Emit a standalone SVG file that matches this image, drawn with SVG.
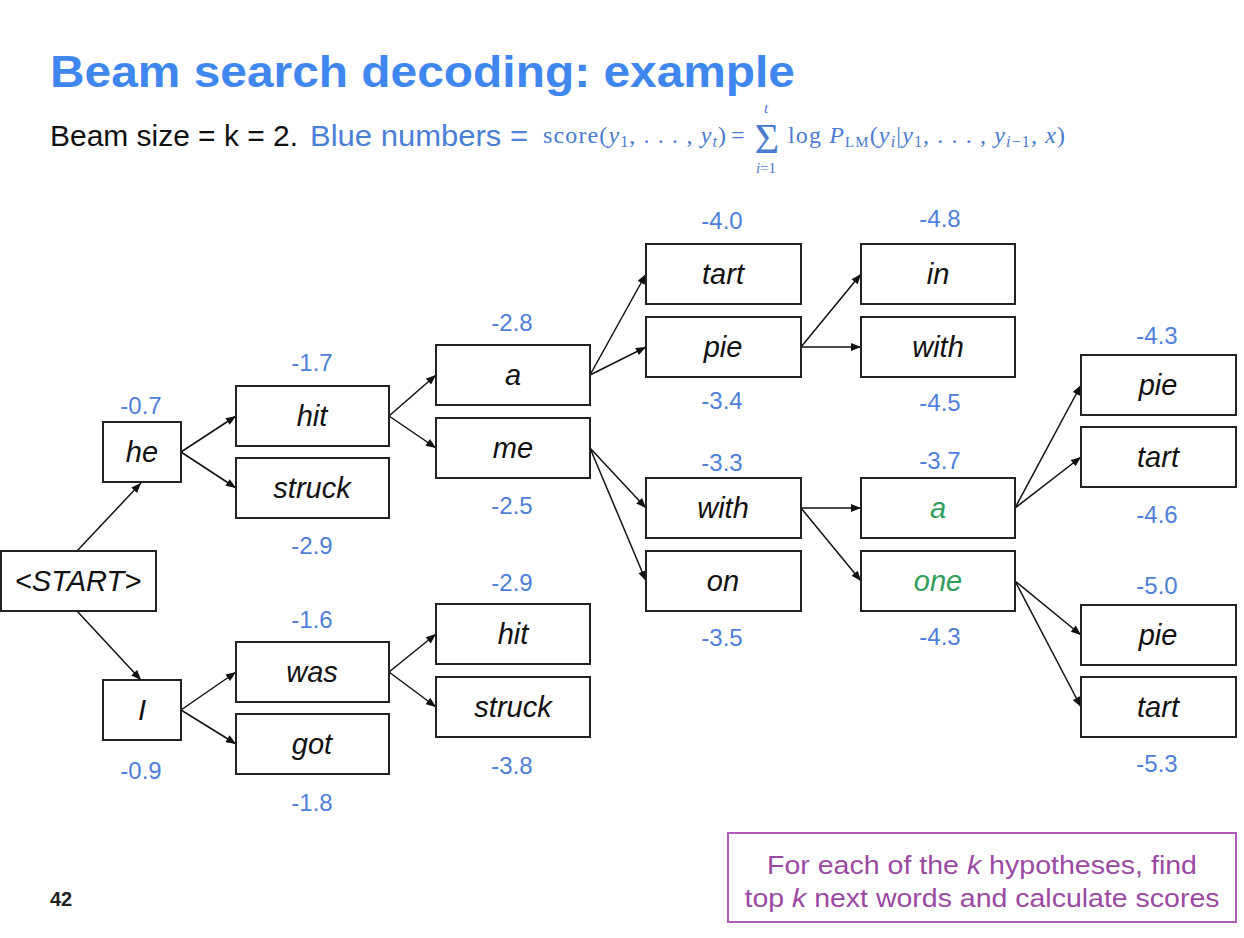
<svg xmlns="http://www.w3.org/2000/svg" width="1244" height="938" viewBox="0 0 1244 938">
<defs>
<marker id="ah" viewBox="0 0 10 8" refX="10" refY="4" markerWidth="11" markerHeight="8" markerUnits="userSpaceOnUse" orient="auto">
<path d="M0,0 L10,4 L0,8 Z" fill="#111"/>
</marker>
<style>
.box{fill:#fff;stroke:#222;stroke-width:2}
.w{font-family:"Liberation Sans",Arial,sans-serif;font-style:italic;font-size:29px;fill:#111;text-anchor:middle}
.g{fill:#2f9e5a}
.s{font-family:"Liberation Sans",Arial,sans-serif;font-size:24px;fill:#4f7fd8;text-anchor:middle}
.e{stroke:#111;stroke-width:1.5;fill:none;marker-end:url(#ah)}
.m{font-family:"Liberation Serif","Times New Roman",serif;fill:#4a7bd0}
</style>
</defs>
<rect width="1244" height="938" fill="#fff"/>
<text x="50" y="87" font-family="Liberation Sans,Arial,sans-serif" font-weight="bold" font-size="45" fill="#3f86ef" textLength="745" lengthAdjust="spacingAndGlyphs">Beam search decoding: example</text>
<text x="50" y="146" font-family="Liberation Sans,Arial,sans-serif" font-size="29" fill="#111" textLength="248" lengthAdjust="spacingAndGlyphs">Beam size = k = 2.</text>
<text x="310" y="146" font-family="Liberation Sans,Arial,sans-serif" font-size="29" fill="#4a7fd6" textLength="218" lengthAdjust="spacingAndGlyphs">Blue numbers =</text>
<g id="formula">
<text class="m" x="543" y="143" font-size="24" textLength="183" lengthAdjust="spacing">score(<tspan font-style="italic">y</tspan><tspan font-size="16" dy="4">1</tspan><tspan dy="-4">, . . . , </tspan><tspan font-style="italic">y</tspan><tspan font-size="16" font-style="italic" dy="4">t</tspan><tspan dy="-4">)</tspan></text>
<text class="m" x="731" y="143" font-size="24">=</text>
<text class="m" x="767" y="153" font-size="42" text-anchor="middle">Σ</text>
<text class="m" x="766" y="113" font-size="15" font-style="italic" text-anchor="middle">t</text>
<text class="m" x="766" y="173" font-size="15" text-anchor="middle"><tspan font-style="italic">i</tspan>=1</text>
<text class="m" x="788" y="143" font-size="24" textLength="277" lengthAdjust="spacing">log <tspan font-style="italic">P</tspan><tspan font-size="15" dy="4">LM</tspan><tspan dy="-4">(</tspan><tspan font-style="italic">y</tspan><tspan font-size="16" font-style="italic" dy="4">i</tspan><tspan dy="-4">|</tspan><tspan font-style="italic">y</tspan><tspan font-size="16" dy="4">1</tspan><tspan dy="-4">, . . . , </tspan><tspan font-style="italic">y</tspan><tspan font-size="16" dy="4"><tspan font-style="italic">i</tspan>−1</tspan><tspan dy="-4">, </tspan><tspan font-style="italic">x</tspan>)</text>
</g>
<g id="connectors">
<line class="e" x1="77" y1="551" x2="141" y2="483"/>
<line class="e" x1="77" y1="611" x2="141" y2="680"/>
<line class="e" x1="181" y1="452" x2="236" y2="416"/>
<line class="e" x1="181" y1="452" x2="236" y2="488"/>
<line class="e" x1="181" y1="710" x2="236" y2="672"/>
<line class="e" x1="181" y1="710" x2="236" y2="744"/>
<line class="e" x1="389" y1="416" x2="436" y2="375"/>
<line class="e" x1="389" y1="416" x2="436" y2="448"/>
<line class="e" x1="389" y1="672" x2="436" y2="634"/>
<line class="e" x1="389" y1="672" x2="436" y2="707"/>
<line class="e" x1="590" y1="375" x2="646" y2="274"/>
<line class="e" x1="590" y1="375" x2="646" y2="347"/>
<line class="e" x1="590" y1="448" x2="646" y2="508"/>
<line class="e" x1="590" y1="448" x2="646" y2="581"/>
<line class="e" x1="801" y1="347" x2="861" y2="274"/>
<line class="e" x1="801" y1="347" x2="861" y2="347"/>
<line class="e" x1="801" y1="508" x2="861" y2="508"/>
<line class="e" x1="801" y1="508" x2="861" y2="581"/>
<line class="e" x1="1015" y1="508" x2="1081" y2="385"/>
<line class="e" x1="1015" y1="508" x2="1081" y2="457"/>
<line class="e" x1="1015" y1="581" x2="1081" y2="635"/>
<line class="e" x1="1015" y1="581" x2="1081" y2="707"/>
</g>
<g id="n-start"><rect class="box" x="1" y="551" width="155" height="60"/><text class="w" x="78" y="591">&lt;START&gt;</text></g>
<g id="n-he"><rect class="box" x="103" y="422" width="78" height="60"/><text class="w" x="142" y="462">he</text><text class="s" x="141" y="414">-0.7</text></g>
<g id="n-I"><rect class="box" x="103" y="680" width="78" height="60"/><text class="w" x="142" y="720">I</text><text class="s" x="141" y="779">-0.9</text></g>
<g id="n-hit"><rect class="box" x="236" y="386" width="153" height="60"/><text class="w" x="312" y="426">hit</text><text class="s" x="312" y="371">-1.7</text></g>
<g id="n-struck"><rect class="box" x="236" y="458" width="153" height="60"/><text class="w" x="312" y="498">struck</text><text class="s" x="312" y="554">-2.9</text></g>
<g id="n-was"><rect class="box" x="236" y="642" width="153" height="60"/><text class="w" x="312" y="682">was</text><text class="s" x="312" y="628">-1.6</text></g>
<g id="n-got"><rect class="box" x="236" y="714" width="153" height="60"/><text class="w" x="312" y="754">got</text><text class="s" x="312" y="811">-1.8</text></g>
<g id="n-a3"><rect class="box" x="436" y="345" width="154" height="60"/><text class="w" x="513" y="385">a</text><text class="s" x="512" y="331">-2.8</text></g>
<g id="n-me"><rect class="box" x="436" y="418" width="154" height="60"/><text class="w" x="513" y="458">me</text><text class="s" x="512" y="514">-2.5</text></g>
<g id="n-hit3"><rect class="box" x="436" y="604" width="154" height="60"/><text class="w" x="513" y="644">hit</text><text class="s" x="512" y="591">-2.9</text></g>
<g id="n-struck3"><rect class="box" x="436" y="677" width="154" height="60"/><text class="w" x="513" y="717">struck</text><text class="s" x="512" y="774">-3.8</text></g>
<g id="n-tart4"><rect class="box" x="646" y="244" width="155" height="60"/><text class="w" x="723" y="284">tart</text><text class="s" x="722" y="229">-4.0</text></g>
<g id="n-pie4"><rect class="box" x="646" y="317" width="155" height="60"/><text class="w" x="723" y="357">pie</text><text class="s" x="722" y="409">-3.4</text></g>
<g id="n-with4"><rect class="box" x="646" y="478" width="155" height="60"/><text class="w" x="723" y="518">with</text><text class="s" x="722" y="471">-3.3</text></g>
<g id="n-on4"><rect class="box" x="646" y="551" width="155" height="60"/><text class="w" x="723" y="591">on</text><text class="s" x="722" y="646">-3.5</text></g>
<g id="n-in5"><rect class="box" x="861" y="244" width="154" height="60"/><text class="w" x="938" y="284">in</text><text class="s" x="940" y="227">-4.8</text></g>
<g id="n-with5"><rect class="box" x="861" y="317" width="154" height="60"/><text class="w" x="938" y="357">with</text><text class="s" x="940" y="411">-4.5</text></g>
<g id="n-a5"><rect class="box" x="861" y="478" width="154" height="60"/><text class="w g" x="938" y="518">a</text><text class="s" x="940" y="469">-3.7</text></g>
<g id="n-one5"><rect class="box" x="861" y="551" width="154" height="60"/><text class="w g" x="938" y="591">one</text><text class="s" x="940" y="645">-4.3</text></g>
<g id="n-pie6a"><rect class="box" x="1081" y="355" width="155" height="60"/><text class="w" x="1158" y="395">pie</text><text class="s" x="1157" y="344">-4.3</text></g>
<g id="n-tart6a"><rect class="box" x="1081" y="427" width="155" height="60"/><text class="w" x="1158" y="467">tart</text><text class="s" x="1157" y="523">-4.6</text></g>
<g id="n-pie6b"><rect class="box" x="1081" y="605" width="155" height="60"/><text class="w" x="1158" y="645">pie</text><text class="s" x="1157" y="594">-5.0</text></g>
<g id="n-tart6b"><rect class="box" x="1081" y="677" width="155" height="60"/><text class="w" x="1158" y="717">tart</text><text class="s" x="1157" y="772">-5.3</text></g>
<text x="61" y="906" font-family="Liberation Sans,Arial,sans-serif" font-size="20" font-weight="bold" fill="#222" text-anchor="middle">42</text>
<g id="note">
<rect x="728" y="833" width="508" height="89" fill="#fff" stroke="#b05cb8" stroke-width="2"/>
<text x="982" y="874" font-family="Liberation Sans,Arial,sans-serif" font-size="25" fill="#9b4aa3" text-anchor="middle" textLength="430" lengthAdjust="spacingAndGlyphs">For each of the <tspan font-style="italic">k</tspan> hypotheses, find</text>
<text x="982" y="907" font-family="Liberation Sans,Arial,sans-serif" font-size="25" fill="#9b4aa3" text-anchor="middle" textLength="475" lengthAdjust="spacingAndGlyphs">top <tspan font-style="italic">k</tspan> next words and calculate scores</text>
</g>
</svg>
